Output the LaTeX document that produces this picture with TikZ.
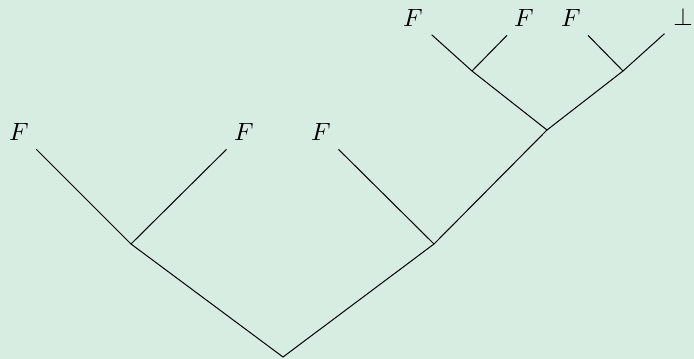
\documentclass[tikz,border=0pt]{standalone}
\usepackage{xcolor}
\usepackage{tikz}
\definecolor{bgmint}{HTML}{D7EDE2}

\begin{document}
\begin{tikzpicture}[
  x=0.4pt, y=-0.4pt,
  leaf/.style={inner sep=0.333em},
  branch/.style={black, line width=0.4pt},
]
  \fill[bgmint] (0,0) rectangle (694,359);
  \useasboundingbox (0,0) rectangle (694,359);

  % inner points of the tree
  \coordinate (root) at (283,357);
  \coordinate (left) at (131,244);
  \coordinate (right) at (434,244);
  \coordinate (mid) at (547,130);
  \coordinate (topl) at (472,71);
  \coordinate (topr) at (623,71);

  % leaves
  \node[leaf] (f1) at (19,132) {$F$};
  \node[leaf] (f2) at (244,132) {$F$};
  \node[leaf] (f3) at (321,132) {$F$};
  \node[leaf] (f4) at (413,18) {$F$};
  \node[leaf] (f5) at (524,18) {$F$};
  \node[leaf] (f6) at (571,18) {$F$};
  \node[leaf] (bot) at (683,17) {$\bot$};

  \draw[branch] (left) -- (root) -- (right);
  \draw[branch] (f1) -- (left) -- (f2);
  \draw[branch] (f3) -- (right) -- (mid);
  \draw[branch] (topl) -- (mid) -- (topr);
  \draw[branch] (f4) -- (topl) -- (f5);
  \draw[branch] (f6) -- (topr) -- (bot);
\end{tikzpicture}
\end{document}
